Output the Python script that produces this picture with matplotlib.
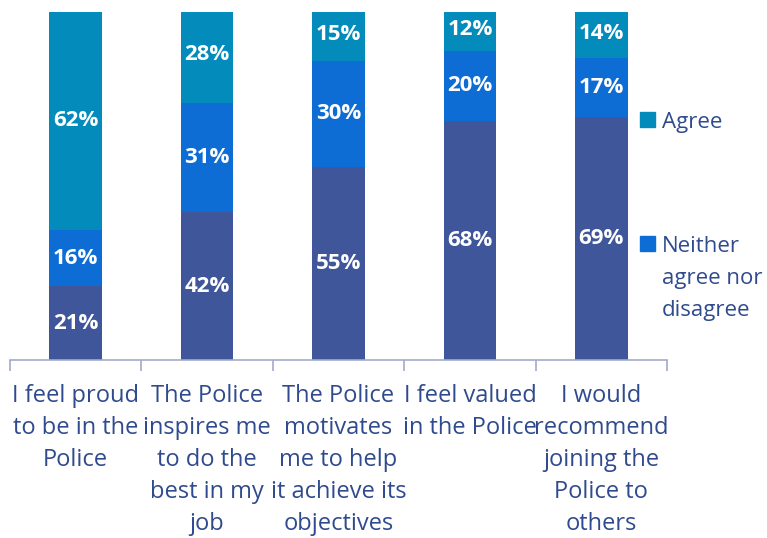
import matplotlib
matplotlib.use("Agg")
import matplotlib.pyplot as plt
from matplotlib.patches import Rectangle

categories = [
    "I feel proud\nto be in the\nPolice",
    "The Police\ninspires me\nto do the\nbest in my\njob",
    "The Police\nmotivates\nme to help\nit achieve its\nobjectives",
    "I feel valued\nin the Police",
    "I would\nrecommend\njoining the\nPolice to\nothers",
]
disagree = [21, 42, 55, 68, 69]
neither = [16, 31, 30, 20, 17]
agree = [62, 28, 15, 12, 14]
legend_labels = ["Agree", "Neither\nagree nor\ndisagree"]

C_DIS = "#3F569A"
C_NEI = "#0D6DD4"
C_AGR = "#028BBB"
TXT = "#2F4A8E"
AX = "#A3AACB"

plt.rcParams["font.family"] = ["Open Sans", "DejaVu Sans"]

W, H = 767, 538
fig = plt.figure(figsize=(W / 100, H / 100), dpi=100)
ax = fig.add_axes([10 / W, (H - 360) / H, 657 / W, 348 / H])

x = list(range(len(categories)))
w = 0.4
b1 = ax.bar(x, disagree, w, color=C_DIS)
b2 = ax.bar(x, neither, w, bottom=disagree, color=C_NEI)
bot3 = [a + b for a, b in zip(disagree, neither)]
b3 = ax.bar(x, agree, w, bottom=bot3, color=C_AGR)

for bars, vals in ((b1, disagree), (b2, neither), (b3, agree)):
    for r, v in zip(bars, vals):
        ax.text(r.get_x() + r.get_width() / 2, r.get_y() + r.get_height() / 2, f"{v}%",
                ha="center", va="center", color="white", fontsize=16, fontweight="bold")

ax.set_xlim(-0.5, len(categories) - 0.5)
ax.set_ylim(0, 99)
for s in ("top", "right", "left"):
    ax.spines[s].set_visible(False)
ax.spines["bottom"].set_color(AX)
ax.spines["bottom"].set_linewidth(1.2)
ax.set_yticks([])
ax.set_xticks(x)
ax.set_xticklabels([])
ax.tick_params(axis="x", which="major", length=0)
ax.set_xticks([i - 0.5 for i in range(len(categories) + 1)], minor=True)
ax.tick_params(axis="x", which="minor", length=8, color=AX, width=1.2)

for i, lab in enumerate(categories):
    ax.text(i, -6.8, lab, ha="center", va="top", color=TXT, fontsize=17,
            linespacing=1.44, clip_on=False)

# legend drawn by hand so the swatch sits on the first text line
for (y, lab, col) in ((120, legend_labels[0], C_AGR), (244, legend_labels[1], C_NEI)):
    fig.patches.append(Rectangle((640 / W, 1 - (y + 7) / H), 15 / W, 15 / H,
                                 transform=fig.transFigure, color=col))
    fig.text(662 / W, 1 - (y - 8) / H, lab, ha="left", va="top", color=TXT,
             fontsize=16, linespacing=1.7)

fig.savefig("out.png", dpi=100, facecolor="white")
